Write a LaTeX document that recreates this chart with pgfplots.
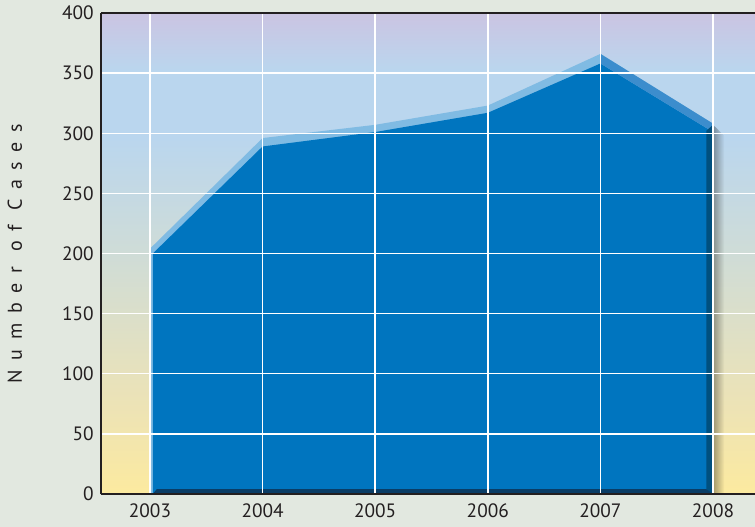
\documentclass[border=0pt]{standalone}
\usepackage{fontspec}
\setmainfont{PT Sans}
\usepackage{pgfplots}
\pgfplotsset{compat=1.18}
\usetikzlibrary{fadings}
\definecolor{bgcol}{HTML}{E2E8E0}
\definecolor{labcol}{HTML}{231F20}
\definecolor{cZero}{HTML}{FCEA9F}
\definecolor{cOne}{HTML}{EDE3B5}
\definecolor{cTwo}{HTML}{CFDCD7}
\definecolor{cThree}{HTML}{BAD6EE}
\definecolor{cFour}{HTML}{CBC4E2}
\definecolor{areablue}{HTML}{0075BF}
\definecolor{hiblue}{HTML}{80BBE3}
\definecolor{hidark}{HTML}{3C8DCD}
\definecolor{sideblue}{HTML}{00507F}
\definecolor{botblue}{HTML}{0A3D66}
\pgfdeclareverticalshading{bgshade}{100bp}{color(0bp)=(cZero); color(25bp)=(cZero); color(34bp)=(cOne); color(50bp)=(cTwo); color(62bp)=(cThree); color(69bp)=(cThree); color(75bp)=(cFour); color(100bp)=(cFour)}
\begin{document}
\begin{tikzpicture}
\path[use as bounding box, fill=bgcol] (0,0) rectangle (566.25pt,395.25pt);
\begin{axis}[
  at={(75.75pt,24.75pt)}, anchor=south west,
  scale only axis, width=490.5pt, height=360.75pt,
  xmin=2002.565, xmax=2008.373, ymin=0, ymax=400,
  axis x line=box, axis y line=left,
  axis line style={-, draw=labcol, line width=2.2pt},
  axis background/.style={shading=bgshade},
  axis on top,
  xtick={2003,2004,2005,2006,2007,2008},
  ytick={0,50,...,400},
  major tick length=0pt,
  grid=major,
  major grid style={white, line width=1.1pt},
  tick label style={font=\fontsize{14.5}{16}\selectfont, text=labcol},
  /pgf/number format/assume math mode=true,
  xticklabel style={/pgf/number format/1000 sep=, yshift=-4pt},
  yticklabel style={xshift=-2pt},
]
% highlight (top face)
\addplot[draw=none, fill=hiblue] coordinates {(2003,0)(2003,204)(2004,296)(2005,307)(2006,323)(2007,366)(2008,308)(2008,0)} \closedcycle;
% front face
\addplot[draw=none, fill=areablue] coordinates {(2003.025,0)(2003.025,200)(2004,289)(2005,301)(2006,317)(2007,358)(2008,301)(2008,0)} \closedcycle;
% falling part of the top face, darker
\addplot[draw=none, fill=hidark] coordinates {(2007,366)(2008,308)(2008,301)(2007,358)} -- cycle;
% right side face
\addplot[draw=none, fill=sideblue] coordinates {(2007.94,3)(2008,0)(2008,307)(2007.94,302)} -- cycle;
% bottom face
\addplot[draw=none, fill=botblue] coordinates {(2003.025,0)(2008,0)(2007.94,4)(2003.06,4)} -- cycle;
% drop shadow
\addplot[draw=none, fill=black, fill opacity=0.35, path fading=east] coordinates {(2008,0)(2008.1,0)(2008.1,298)(2008,307)} -- cycle;
\end{axis}
\node[rotate=90, text=labcol, font=\fontsize{15}{17}\selectfont\addfontfeatures{LetterSpace=48}] at (11.25pt,205pt) {Number of Cases};
\end{tikzpicture}
\end{document}
